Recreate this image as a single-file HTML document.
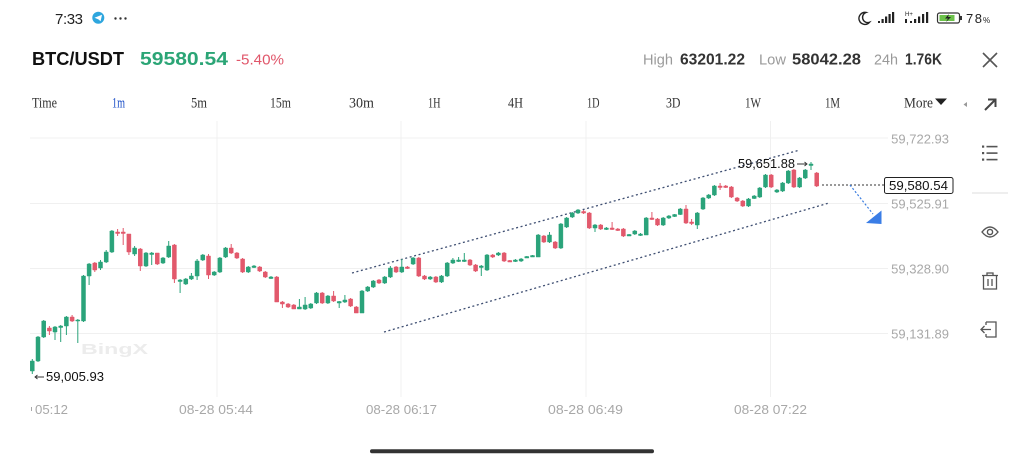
<!DOCTYPE html>
<html><head><meta charset="utf-8"><style>html,body{margin:0;padding:0;background:#fff;}svg{display:block;}</style></head>
<body>
<svg xmlns="http://www.w3.org/2000/svg" width="1024" height="460" viewBox="0 0 1024 460" font-family="Liberation Sans, sans-serif">
<rect width="1024" height="460" fill="#fff"/>
<!-- status bar -->
<text x="55" y="24" font-size="15" fill="#222" textLength="28">7:33</text>
<circle cx="98.3" cy="17.7" r="6" fill="#2ea6de"/>
<path d="M94.5 17.8 L102 14.8 L100.6 21.2 L98.4 19.4 Z" fill="#fff"/>
<circle cx="115.5" cy="18.5" r="1.2" fill="#333"/><circle cx="120.5" cy="18.5" r="1.2" fill="#333"/><circle cx="125.5" cy="18.5" r="1.2" fill="#333"/>
<path d="M866 12.5a6 6 0 1 0 3.5 9.8a5 5 0 0 1 -3.5 -9.8z" fill="none" stroke="#222" stroke-width="1.4"/>
<g fill="#222">
<rect x="878" y="21" width="2" height="2"/><rect x="881.5" y="19" width="2.2" height="4"/><rect x="885" y="16.5" width="2.2" height="6.5"/><rect x="888.5" y="14" width="2.2" height="9"/><rect x="892" y="12" width="2.2" height="11"/>
<rect x="905" y="19" width="2" height="4"/><rect x="910" y="21" width="2" height="2"/><rect x="914" y="19" width="2.2" height="4"/><rect x="918" y="16.5" width="2.2" height="6.5"/><rect x="922" y="14" width="2.2" height="9"/><rect x="926" y="12" width="2.2" height="11"/>
</g>
<text x="905" y="16" font-size="6" fill="#222">H+</text>
<rect x="937.5" y="13" width="22" height="10" rx="2" fill="none" stroke="#333" stroke-width="1.2"/>
<rect x="939.5" y="15" width="15" height="6" fill="#6cc24a"/>
<path d="M949 14 L945 18.5 L948 18.5 L946 22 L951 17 L948 17 Z" fill="#222"/>
<rect x="960" y="16" width="2" height="4" fill="#333"/>
<text x="966" y="23" font-size="13" fill="#222" textLength="16">78</text>
<text x="983" y="23" font-size="8" fill="#222">%</text>

<!-- title row -->
<text x="32" y="65" font-size="18" font-weight="700" fill="#111" textLength="92" lengthAdjust="spacingAndGlyphs">BTC/USDT</text>
<text x="140" y="65" font-size="18" font-weight="700" fill="#2ba576" textLength="88" lengthAdjust="spacingAndGlyphs">59580.54</text>
<text x="236" y="64.5" font-size="15" fill="#e0566a" textLength="48" lengthAdjust="spacingAndGlyphs">-5.40%</text>
<text x="643" y="64.5" font-size="15" fill="#9a9a9a" textLength="30" lengthAdjust="spacingAndGlyphs">High</text>
<text x="680" y="64.5" font-size="16" font-weight="700" fill="#333" textLength="65" lengthAdjust="spacingAndGlyphs">63201.22</text>
<text x="759" y="64.5" font-size="15" fill="#9a9a9a" textLength="27" lengthAdjust="spacingAndGlyphs">Low</text>
<text x="792" y="64.5" font-size="16" font-weight="700" fill="#333" textLength="69" lengthAdjust="spacingAndGlyphs">58042.28</text>
<text x="874" y="64.5" font-size="15" fill="#9a9a9a" textLength="24" lengthAdjust="spacingAndGlyphs">24h</text>
<text x="905" y="64.5" font-size="16" font-weight="700" fill="#333" textLength="37" lengthAdjust="spacingAndGlyphs">1.76K</text>
<path d="M983 53 L997 67 M997 53 L983 67" stroke="#555" stroke-width="1.6"/>

<!-- timeframe row -->
<g font-family="Liberation Serif, serif" font-size="15" fill="#333">
<text x="32" y="107.5" textLength="25" lengthAdjust="spacingAndGlyphs">Time</text>
<text x="112" y="107.5" fill="#1c4fc7" textLength="13" lengthAdjust="spacingAndGlyphs">1m</text>
<text x="191" y="107.5" textLength="16" lengthAdjust="spacingAndGlyphs">5m</text>
<text x="270" y="107.5" textLength="21" lengthAdjust="spacingAndGlyphs">15m</text>
<text x="349" y="107.5" textLength="25" lengthAdjust="spacingAndGlyphs">30m</text>
<text x="428" y="107.5" textLength="12.5" lengthAdjust="spacingAndGlyphs">1H</text>
<text x="508" y="107.5" textLength="15" lengthAdjust="spacingAndGlyphs">4H</text>
<text x="587" y="107.5" textLength="12.5" lengthAdjust="spacingAndGlyphs">1D</text>
<text x="666" y="107.5" textLength="14.5" lengthAdjust="spacingAndGlyphs">3D</text>
<text x="745" y="107.5" textLength="16" lengthAdjust="spacingAndGlyphs">1W</text>
<text x="825" y="107.5" textLength="15" lengthAdjust="spacingAndGlyphs">1M</text>
<text x="904" y="107.5" textLength="29" lengthAdjust="spacingAndGlyphs">More</text>
</g>
<path d="M935 98.5 L947 98.5 L941 105 Z" fill="#222"/>
<path d="M967 102 L963.5 104.5 L967 107 Z" fill="#999"/>
<path d="M985 110 L995 100 M988 99.5 L995.5 99.5 L995.5 107" stroke="#444" stroke-width="2" fill="none"/>

<!-- sidebar -->
<g fill="#555">
<rect x="982" y="145.5" width="2.2" height="2.2"/><rect x="986.5" y="145.8" width="11" height="1.6"/>
<rect x="982" y="152" width="2.2" height="2.2"/><rect x="986.5" y="152.3" width="11" height="1.6"/>
<rect x="982" y="158.5" width="2.2" height="2.2"/><rect x="986.5" y="158.8" width="11" height="1.6"/>
</g>
<rect x="972" y="192.5" width="36" height="1" fill="#dcdcdc"/>
<path d="M982 232 Q990 222 998 232 Q990 242 982 232 Z" fill="none" stroke="#555" stroke-width="1.4"/>
<circle cx="990" cy="232" r="2.6" fill="none" stroke="#555" stroke-width="1.4"/>
<g fill="none" stroke="#555" stroke-width="1.3">
<path d="M982 275.5 H998 M987 275.5 V273 H993 V275.5 M983.5 276 V289 H996.5 V276 M988 279 V286 M992 279 V286"/>
<path d="M986 322 H996 V337 H986 M986 322 V325 M986 334 V337 M981 329.5 H991 M984.5 326 L981 329.5 L984.5 333"/>
</g>

<!-- grid -->
<g stroke="#f0f0f0" stroke-width="1">
<path d="M30 138 H888 M30 203.5 H888 M30 268.5 H888 M30 333.5 H888"/>
<path d="M217 121 V397 M401 121 V397 M586 121 V397 M770.5 121 V397"/>
</g>
<text x="81" y="354" font-size="15" font-weight="700" fill="#ececec" textLength="67" lengthAdjust="spacingAndGlyphs">BingX</text>

<!-- axis labels -->
<g font-size="13" fill="#a8a8a8" text-anchor="end">
<text x="949" y="143.5">59,722.93</text>
<text x="949" y="208.5">59,525.91</text>
<text x="949" y="273.5">59,328.90</text>
<text x="949" y="338.5">59,131.89</text>
</g>
<g font-size="13" fill="#a8a8a8">
<rect x="31" y="407" width="1" height="4"/>
<text x="35" y="414" textLength="33" lengthAdjust="spacingAndGlyphs">05:12</text>
<text x="179" y="414" textLength="74" lengthAdjust="spacingAndGlyphs">08-28 05:44</text>
<text x="366" y="414" textLength="71" lengthAdjust="spacingAndGlyphs">08-28 06:17</text>
<text x="548" y="414" textLength="75" lengthAdjust="spacingAndGlyphs">08-28 06:49</text>
<text x="734" y="414" textLength="73" lengthAdjust="spacingAndGlyphs">08-28 07:22</text>
</g>

<!-- channel lines -->
<g stroke="#3f4f72" stroke-width="1.3" stroke-dasharray="2 2.6" fill="none">
<path d="M352 273 L800 150"/>
<path d="M384 332 L829 203"/>
</g>

<!-- wicks -->
<path fill="none" stroke="#2aa37a" stroke-width="1" d="M32.3 359V374M38 336V362M43.7 320V338M55 326V340M60.7 325V342M66.4 316V335M77.8 319V343M83.5 275V322M89.1 263V285M100.5 260V270M106.2 250V263M111.9 230V253M134.6 246V256M146 252V267M151.7 252V265M163 257V264M168.7 241V258M180.1 279V293M185.8 278V285M191.4 273V280M197.1 259V280M202.8 254V261M214.2 271V276M219.9 257V273M225.6 247V258M248.3 266V273M254 265V268M271 276V279M299.4 299V309M305.1 297V310M310.8 303V309M316.5 292V304M327.9 295V304M339.2 301V308M344.9 295V303M362 290V313M367.7 286V292M373.3 280V288M384.7 276V284M390.4 266V278M401.8 259V273M413.1 257V265M430.2 276V280M441.5 275V283M447.2 262V277M452.9 258V264M458.6 257V262M464.3 253V262M481.3 265V276M487 254V271M498.4 252V256M515.4 259V262M521.1 258V262M526.8 256V258M532.5 255V257M538.2 234V257M549.5 232V243M560.9 223V249M566.6 217V228M572.3 212V218M578 209V214M595 224V232M606.4 227V230M629.1 234V236M634.8 230V235M640.5 233V236M646.2 217V235M663.2 217V226M668.9 215V219M674.6 214V217M680.3 208V215M697.3 212V229M703 197V210M708.7 194V199M714.4 185V196M748.5 198V207M754.2 195V199M759.8 187V198M765.5 174V188M776.9 189V193M782.6 182V192M788.3 170V184M799.6 177V188M805.3 169V179M811 162V170"/>
<path fill="none" stroke="#e2596c" stroke-width="1" d="M49.4 326V335M72.1 315V322M94.8 262V272M117.6 229V236M123.2 228V245M128.9 234V255M140.3 248V271M157.3 253V265M174.4 244V283M208.5 254V279M231.2 244V254M236.9 252V259M242.6 258V273M259.7 266V272M265.3 271V278M276.7 276V302M282.4 301V308M288.1 303V308M293.8 304V309M322.2 292V304M333.6 291V302M350.6 298V307M356.3 306V313M379 279V284M396.1 266V273M407.4 266V269M418.8 257V277M424.5 275V280M435.9 276V283M470 259V266M475.6 264V272M492.7 254V258M504.1 252V262M509.8 260V262M543.9 235V243M555.2 241V249M583.6 210V214M589.3 212V229M600.7 224V230M612.1 222V230M617.8 228V231M623.4 228V237M651.9 212V220M657.5 218V226M686 205V224M691.6 219V225M720.1 183V190M725.7 185V188M731.4 186V198M737.1 197V202M742.8 200V207M771.2 174V188M793.9 169V188M816.7 172V187"/>
<!-- bodies -->
<path fill="#2aa37a" stroke="#2aa37a" stroke-width="0.5" d="M30.3 361h4V371h-4zM36 337h4V361h-4zM41.7 321h4V337h-4zM53 327h4V332h-4zM58.7 326h4V327.5h-4zM64.4 317h4V326h-4zM75.8 320h4V321h-4zM81.5 276h4V321h-4zM87.1 264h4V276h-4zM98.5 262h4V268h-4zM104.2 252h4V262h-4zM109.9 231h4V252h-4zM132.6 248h4V254h-4zM144 253h4V266h-4zM149.7 253h4V254.5h-4zM161 258h4V263h-4zM166.7 246h4V257h-4zM178.1 280h4V281.5h-4zM183.8 279h4V284h-4zM189.4 276h4V279h-4zM195.1 261h4V276h-4zM200.8 255h4V260h-4zM212.2 272h4V275h-4zM217.9 258h4V272h-4zM223.6 248h4V257h-4zM246.3 267h4V272h-4zM252 266h4V267.5h-4zM269 277h4V278.5h-4zM297.4 307h4V309h-4zM303.1 305h4V309h-4zM308.8 304h4V308h-4zM314.5 293h4V303h-4zM325.9 296h4V303h-4zM337.2 301.5h4V303h-4zM342.9 300h4V302h-4zM360 291h4V313h-4zM365.7 287h4V291h-4zM371.3 281h4V287h-4zM382.7 277h4V283h-4zM388.4 268h4V277h-4zM399.8 267h4V272h-4zM411.1 258h4V264h-4zM428.2 277h4V279h-4zM439.5 276h4V282h-4zM445.2 263h4V276h-4zM450.9 260h4V263h-4zM456.6 260h4V261.5h-4zM462.3 260h4V261.5h-4zM479.3 266h4V267.5h-4zM485 255h4V270h-4zM496.4 253h4V255h-4zM513.4 260h4V261.5h-4zM519.1 259h4V261h-4zM524.8 256.5h4V258h-4zM530.5 255.5h4V257h-4zM536.2 235h4V257h-4zM547.5 235h4V242h-4zM558.9 224h4V248h-4zM564.6 218h4V227h-4zM570.3 213h4V217h-4zM576 210h4V213h-4zM593 225h4V228h-4zM604.4 228h4V229.5h-4zM627.1 234.5h4V236h-4zM632.8 231h4V234h-4zM638.5 234h4V235.5h-4zM644.2 218h4V235h-4zM661.2 218h4V225h-4zM666.9 216h4V218h-4zM672.6 214.5h4V216.5h-4zM678.3 209h4V214.5h-4zM695.3 213h4V225h-4zM701 198h4V209h-4zM706.7 195h4V198h-4zM712.4 186h4V195h-4zM746.5 199h4V206h-4zM752.2 196h4V198.5h-4zM757.8 188h4V197h-4zM763.5 175h4V187h-4zM774.9 190h4V192h-4zM780.6 183h4V191h-4zM786.3 171h4V183h-4zM797.6 178h4V187h-4zM803.3 170h4V178h-4zM809 164h4V165.5h-4z"/>
<path fill="#e2596c" stroke="#e2596c" stroke-width="0.5" d="M47.4 328h4V331h-4zM70.1 317h4V321h-4zM92.8 263h4V270h-4zM115.6 232h4V233.5h-4zM121.2 232h4V233.5h-4zM126.9 234h4V252h-4zM138.3 249h4V266h-4zM155.3 253h4V264h-4zM172.4 245h4V279h-4zM206.5 256h4V275h-4zM229.2 248h4V253h-4zM234.9 253h4V258h-4zM240.6 259h4V272h-4zM257.7 267h4V271h-4zM263.3 272h4V277h-4zM274.7 277h4V302h-4zM280.4 302h4V304h-4zM286.1 304h4V307h-4zM291.8 305h4V309h-4zM320.2 293h4V303h-4zM331.6 296h4V301h-4zM348.6 299h4V306h-4zM354.3 307h4V313h-4zM377 280h4V283h-4zM394.1 267h4V272h-4zM405.4 267h4V268.5h-4zM416.8 258h4V276h-4zM422.5 276h4V279h-4zM433.9 277h4V282h-4zM468 260h4V265h-4zM473.6 265h4V271h-4zM490.7 255h4V257h-4zM502.1 253h4V261h-4zM507.8 260.5h4V262h-4zM541.9 236h4V242h-4zM553.2 242h4V248h-4zM581.6 211.5h4V213h-4zM587.3 213h4V228h-4zM598.7 225h4V229h-4zM610.1 228h4V229.5h-4zM615.8 229h4V230.5h-4zM621.4 229h4V236h-4zM649.9 218h4V219.5h-4zM655.5 219h4V225h-4zM684 209h4V223h-4zM689.6 222h4V223.5h-4zM718.1 186h4V187.5h-4zM723.7 186h4V187.5h-4zM729.4 187h4V197h-4zM735.1 198h4V201h-4zM740.8 201h4V206h-4zM769.2 175h4V187h-4zM791.9 170h4V187h-4zM814.7 173h4V186h-4z"/>

<!-- current price line + box -->
<path d="M822 185 H884" stroke="#333" stroke-width="1" stroke-dasharray="2 2"/>
<path d="M850 185 L873 214" stroke="#3a7de0" stroke-width="1.2" stroke-dasharray="2 2"/>
<path d="M881.5 210.5 L881.5 224 L866 223 Z" fill="#3a7de6"/>
<rect x="884.5" y="177.5" width="68.5" height="16" rx="2" fill="#fff" stroke="#222" stroke-width="1"/>
<text x="889" y="190" font-size="13" fill="#111" textLength="59" lengthAdjust="spacingAndGlyphs">59,580.54</text>

<!-- high / low labels -->
<text x="738" y="168" font-size="13" fill="#111" textLength="57" lengthAdjust="spacingAndGlyphs">59,651.88</text>
<path d="M797 164 H807 M804.5 162 L807 164 L804.5 166" stroke="#333" stroke-width="0.9" fill="none"/>
<path d="M35 377 H44 M37.5 375 L35 377 L37.5 379" stroke="#333" stroke-width="0.9" fill="none"/>
<text x="46" y="381" font-size="13" fill="#111" textLength="58" lengthAdjust="spacingAndGlyphs">59,005.93</text>

<!-- home indicator -->
<rect x="370" y="449.3" width="284" height="4" rx="2" fill="#333"/>
</svg>
</body></html>
